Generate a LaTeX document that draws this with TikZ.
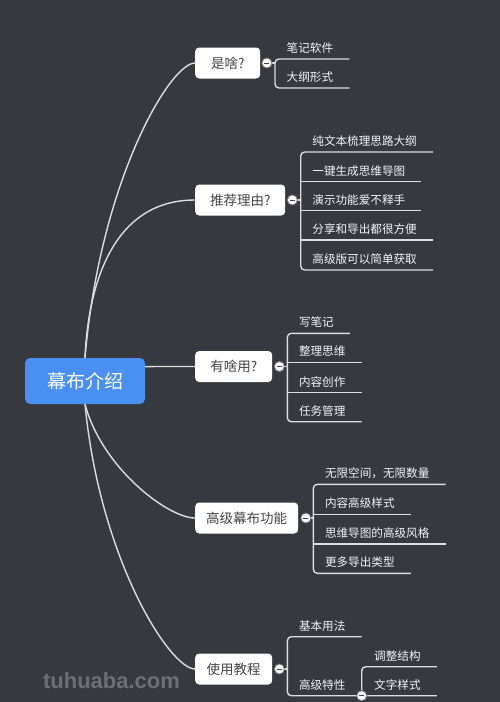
\documentclass[tikz,border=0pt]{standalone}
\usepackage{fontspec}
\newfontfamily\cjk{Noto Sans CJK SC}
\newfontfamily\wmfont{Liberation Sans}
\definecolor{bgc}{HTML}{36393E}
\definecolor{rootblue}{HTML}{4A90F2}
\definecolor{linec}{HTML}{DDDDDD}
\definecolor{boxtext}{HTML}{454545}
\definecolor{leaftext}{HTML}{F4F4F4}
\definecolor{wmc}{HTML}{6C6F74}
\pgfdeclarelayer{bglayer}
\pgfdeclarelayer{lines}
\pgfsetlayers{bglayer,lines,main}
\begin{document}
\begin{tikzpicture}[x=1pt,y=-1pt,
 conn/.style={draw=linec, line width=1.4pt},
 rootbox/.style={fill=rootblue, rounded corners=5pt, minimum width=120pt, minimum height=46pt, text=white, font=\cjk\fontsize{19}{20}\selectfont, inner sep=0},
 branch/.style={fill=white, rounded corners=4pt, minimum height=31pt, text=boxtext, font=\cjk\fontsize{13.5}{14}\selectfont, inner sep=0, anchor=west},
 toggle/.style={circle, fill=white, draw=gray, line width=0.9pt, minimum size=10pt, inner sep=0,
   path picture={\draw[boxtext, line width=1pt] ([xshift=-2.5pt]path picture bounding box.center) -- ([xshift=2.5pt]path picture bounding box.center);}},
 leaf/.style={anchor=base west, inner sep=0, text=leaftext, font=\cjk\fontsize{11.6}{12}\selectfont},
]
\begin{pgfonlayer}{bglayer}
\fill[bgc] (0,0) rectangle (500,702);
\end{pgfonlayer}
\useasboundingbox (0,0) rectangle (500,702);

% root
\node[rootbox] (root) at (85,381) {幕布介绍};

% branches
\node[branch, minimum width=65pt] (b1) at (195,63) {是啥?};
\node[branch, minimum width=90pt] (b2) at (195,200) {推荐理由?};
\node[branch, minimum width=77pt] (b3) at (195,366.5) {有啥用?};
\node[branch, minimum width=103pt] (b4) at (195,518) {高级幕布功能};
\node[branch, minimum width=77pt] (b5) at (195,669) {使用教程};

\node[toggle] (t1) at ([xshift=6.5pt]b1.east) {};
\node[toggle] (t2) at ([xshift=7pt]b2.east) {};
\node[toggle] (t3) at ([xshift=7pt]b3.east) {};
\node[toggle] (t4) at ([xshift=7.5pt]b4.east) {};
\node[toggle] (t5) at ([xshift=7pt]b5.east) {};

% leaves (base at underline y - 6.5, x at vertical + 11.5)
\node[leaf] (l11) at (286.5,52.5) {笔记软件};
\node[leaf] (l12) at (286.5,81.5) {大纲形式};

\node[leaf] (l21) at (312.2,145.5) {纯文本梳理思路大纲};
\node[leaf] (l22) at (312.2,175.2) {一键生成思维导图};
\node[leaf] (l23) at (312.2,204.2) {演示功能爱不释手};
\node[leaf] (l24) at (312.2,233.5) {分享和导出都很方便};
\node[leaf] (l25) at (312.2,263.5) {高级版可以简单获取};

\node[leaf] (l31) at (298.8,326.8) {写笔记};
\node[leaf] (l32) at (298.8,355.8) {整理思维};
\node[leaf] (l33) at (298.8,386.2) {内容创作};
\node[leaf] (l34) at (298.8,415.2) {任务管理};

\node[leaf] (l41) at (324.8,477.8) {无限空间，无限数量};
\node[leaf] (l42) at (324.8,507.8) {内容高级样式};
\node[leaf] (l43) at (324.8,537.5) {思维导图的高级风格};
\node[leaf] (l44) at (324.8,566.8) {更多导出类型};

\node[leaf] (l51) at (298.8,630.2) {基本用法};
\node[leaf] (l52) at (298.8,689.2) {高级特性};
\node[toggle] (t6) at (361.7,695.7) {};
\node[leaf] (l61) at (374,660.2) {调整结构};
\node[leaf] (l62) at (374,689.2) {文字样式};

% watermark
\node[text=wmc, font=\wmfont\bfseries\fontsize{22}{23}\selectfont, inner sep=0] (wm) at (111.5,681) {tuhuaba.com};

\begin{pgfonlayer}{lines}
% root connectors
\draw[conn] (root.north) .. controls (100,181) and (170,63) .. (b1.west);
\draw[conn] (root.north) .. controls (88,290) and (110,200) .. (b2.west);
\draw[conn] (root.center) .. controls (root.center |- b3.west) .. (b3.west);
\draw[conn] (root.south) .. controls (102,468) and (168,518) .. (b4.west);
\draw[conn] (root.south) .. controls (100,560) and (170,669) .. (b5.west);

% branch 1
\draw[conn] (t1.center) -- ([xshift=-11.5pt]l11.base west |- t1.center);
\draw[conn, rounded corners=4pt]
  ([xshift=16pt,yshift=-6.5pt]l11.base east) -- ([xshift=-11.5pt,yshift=-6.5pt]l11.base west)
  -- ([xshift=-11.5pt,yshift=-6.5pt]l12.base west) -- ([xshift=16pt,yshift=-6.5pt]l12.base east);

% branch 2
\draw[conn] (t2.center) -- ([xshift=-11.5pt]l21.base west |- t2.center);
\draw[conn, rounded corners=4pt]
  ([xshift=16pt,yshift=-6.5pt]l21.base east) -- ([xshift=-11.5pt,yshift=-6.5pt]l21.base west)
  -- ([xshift=-11.5pt,yshift=-6.5pt]l25.base west) -- ([xshift=16pt,yshift=-6.5pt]l25.base east);
\foreach \l in {l22,l23,l24}
  \draw[conn] ([xshift=-11.5pt,yshift=-6.5pt]\l.base west) -- ([xshift=16pt,yshift=-6.5pt]\l.base east);

% branch 3
\draw[conn] (t3.center) -- ([xshift=-11.5pt]l31.base west |- t3.center);
\draw[conn, rounded corners=4pt]
  ([xshift=16pt,yshift=-6.5pt]l31.base east) -- ([xshift=-11.5pt,yshift=-6.5pt]l31.base west)
  -- ([xshift=-11.5pt,yshift=-6.5pt]l34.base west) -- ([xshift=16pt,yshift=-6.5pt]l34.base east);
\foreach \l in {l32,l33}
  \draw[conn] ([xshift=-11.5pt,yshift=-6.5pt]\l.base west) -- ([xshift=16pt,yshift=-6.5pt]\l.base east);

% branch 4
\draw[conn] (t4.center) -- ([xshift=-11.5pt]l41.base west |- t4.center);
\draw[conn, rounded corners=4pt]
  ([xshift=16pt,yshift=-6.5pt]l41.base east) -- ([xshift=-11.5pt,yshift=-6.5pt]l41.base west)
  -- ([xshift=-11.5pt,yshift=-6.5pt]l44.base west) -- ([xshift=16pt,yshift=-6.5pt]l44.base east);
\foreach \l in {l42,l43}
  \draw[conn] ([xshift=-11.5pt,yshift=-6.5pt]\l.base west) -- ([xshift=16pt,yshift=-6.5pt]\l.base east);

% branch 5
\draw[conn] (t5.center) -- ([xshift=-11.5pt]l51.base west |- t5.center);
\draw[conn, rounded corners=4pt]
  ([xshift=16pt,yshift=-6.5pt]l51.base east) -- ([xshift=-11.5pt,yshift=-6.5pt]l51.base west)
  -- ([xshift=-11.5pt,yshift=-6.5pt]l52.base west) -- (t6.center);
% sub-branch
\draw[conn, rounded corners=4pt]
  ([xshift=16pt,yshift=-6.5pt]l61.base east) -- ([yshift=-6.5pt]t6.center |- l61.base west)
  -- (t6.center) -- ([xshift=16pt,yshift=-6.5pt]l62.base east);
\end{pgfonlayer}
\end{tikzpicture}
\end{document}
